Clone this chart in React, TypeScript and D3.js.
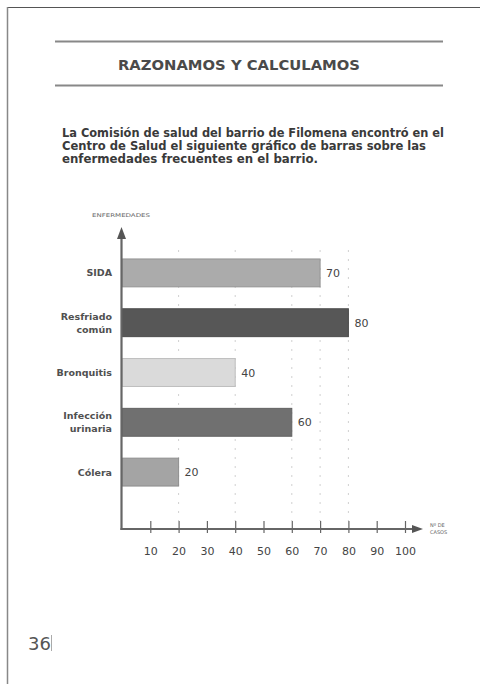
import { useEffect, useRef } from "react";
import * as d3 from "d3";

const CATEGORIES = ["SIDA", "Resfriado común", "Bronquitis", "Infección urinaria", "Cólera"];
const CATEGORY_LINES = [["SIDA"], ["Resfriado", "común"], ["Bronquitis"], ["Infección", "urinaria"], ["Cólera"]];
const CASES = [70, 80, 40, 60, 20];
const BAR_COLORS = ["#ababab", "#575757", "#dadada", "#707070", "#a4a4a4"];
const X_TICKS = [10, 20, 30, 40, 50, 60, 70, 80, 90, 100];
const GRID_VALUES = [20, 40, 60, 70, 80];
const INTRO_LINES = [
  "La Comisión de salud del barrio de Filomena encontró en el",
  "Centro de Salud el siguiente gráfico de barras sobre las",
  "enfermedades frecuentes en el barrio.",
];

export default function App() {
  const svgRef = useRef<SVGSVGElement>(null);

  useEffect(() => {
    if (!svgRef.current) return;
    const width = 480;
    const height = 684;
    const font = "'DejaVu Sans', 'Noto Sans', sans-serif";

    const svg = d3.select(svgRef.current);
    svg.selectAll("*").remove();
    svg.attr("width", width).attr("height", height).attr("viewBox", `0 0 ${width} ${height}`);

    svg.append("rect").attr("width", width).attr("height", height).attr("fill", "white");

    // page frame
    svg.append("line").attr("x1", 7).attr("y1", 7.5).attr("x2", width).attr("y2", 7.5)
      .attr("stroke", "#555").attr("stroke-width", 1.2);
    svg.append("line").attr("x1", 7.5).attr("y1", 7).attr("x2", 7.5).attr("y2", height)
      .attr("stroke", "#888").attr("stroke-width", 1.5);

    // header rules + title
    [41.5, 85.5].forEach((y) => {
      svg.append("line").attr("x1", 55).attr("x2", 443).attr("y1", y).attr("y2", y)
        .attr("stroke", "#888").attr("stroke-width", 2);
    });
    svg.append("text")
      .attr("x", 239).attr("y", 70)
      .attr("text-anchor", "middle")
      .attr("font-family", font).attr("font-size", 14).attr("font-weight", "bold")
      .attr("fill", "#4a4a4a")
      .attr("textLength", 242).attr("lengthAdjust", "spacingAndGlyphs")
      .text("RAZONAMOS Y CALCULAMOS");

    // intro paragraph
    const introWidths = [382, 364, 256];
    INTRO_LINES.forEach((line, i) => {
      svg.append("text")
        .attr("x", 62).attr("y", 137 + i * 13)
        .attr("font-family", font).attr("font-size", 11.5).attr("font-weight", "bold")
        .attr("fill", "#3a3a3a")
        .attr("textLength", introWidths[i]).attr("lengthAdjust", "spacingAndGlyphs")
        .text(line);
    });

    // chart
    const x = d3.scaleLinear().domain([0, 100]).range([122, 405]);
    const y = d3.scaleBand<string>().domain(CATEGORIES).range([248, 497])
      .paddingInner(0.44).paddingOuter(0.22);
    const axisY = 529;
    const axisX = 121.5;

    // dotted grid lines
    svg.append("g").selectAll("line").data(GRID_VALUES).join("line")
      .attr("x1", (d) => x(d)).attr("x2", (d) => x(d))
      .attr("y1", 250).attr("y2", 521)
      .attr("stroke", "#d0d0d0").attr("stroke-width", 1).attr("stroke-dasharray", "2,7");

    // bars
    svg.append("g").selectAll("rect").data(CATEGORIES).join("rect")
      .attr("x", x(0))
      .attr("y", (d) => y(d)!)
      .attr("width", (_, i) => x(CASES[i]) - x(0))
      .attr("height", y.bandwidth())
      .attr("fill", (_, i) => BAR_COLORS[i])
      .attr("stroke", (_, i) => d3.color(BAR_COLORS[i])!.darker(0.4).formatHex())
      .attr("stroke-width", 1);

    // value labels
    svg.append("g").selectAll("text").data(CATEGORIES).join("text")
      .attr("x", (_, i) => x(CASES[i]) + 6)
      .attr("y", (d) => y(d)! + y.bandwidth() / 2 + 4)
      .attr("font-family", font).attr("font-size", 11)
      .attr("fill", "#444")
      .text((_, i) => CASES[i]);

    // category labels
    CATEGORIES.forEach((cat, i) => {
      const lines = CATEGORY_LINES[i];
      const cy = y(cat)! + y.bandwidth() / 2;
      const t = svg.append("text")
        .attr("text-anchor", "end")
        .attr("font-family", font).attr("font-size", 9.5).attr("font-weight", "bold")
        .attr("fill", "#505050");
      lines.forEach((ln, j) => {
        t.append("tspan")
          .attr("x", 112)
          .attr("y", cy + 3.5 + (j - (lines.length - 1) / 2) * 13)
          .text(ln);
      });
    });

    // y axis with arrow
    svg.append("line").attr("x1", axisX).attr("x2", axisX).attr("y1", 236).attr("y2", axisY + 1)
      .attr("stroke", "#666").attr("stroke-width", 2.2);
    svg.append("path")
      .attr("d", `M${axisX},227 L${axisX - 4.5},239 L${axisX + 4.5},239 Z`)
      .attr("fill", "#555");
    svg.append("text")
      .attr("x", 92).attr("y", 217)
      .attr("font-family", font).attr("font-size", 5)
      .attr("fill", "#666")
      .attr("textLength", 58).attr("lengthAdjust", "spacingAndGlyphs")
      .text("ENFERMEDADES");

    // x axis with arrow
    svg.append("line").attr("x1", axisX - 1).attr("x2", 414).attr("y1", axisY).attr("y2", axisY)
      .attr("stroke", "#666").attr("stroke-width", 2.2);
    svg.append("path")
      .attr("d", `M423,${axisY} L412,${axisY - 4} L412,${axisY + 4} Z`)
      .attr("fill", "#555");
    const xAxis = d3.axisBottom(x).tickValues(X_TICKS).tickSize(0).tickPadding(0);
    const gx = svg.append("g").attr("transform", `translate(0,${axisY})`).call(xAxis);
    gx.select(".domain").remove();
    gx.selectAll(".tick").append("line")
      .attr("y1", -8).attr("y2", 4).attr("stroke", "#666").attr("stroke-width", 1.2);
    gx.selectAll(".tick text")
      .attr("y", 18)
      .attr("font-family", font).attr("font-size", 11)
      .attr("fill", "#444");

    const caseLabel = svg.append("text")
      .attr("font-family", font).attr("font-size", 5).attr("fill", "#666");
    caseLabel.append("tspan").attr("x", 430).attr("y", 527).text("Nº DE");
    caseLabel.append("tspan").attr("x", 430).attr("y", 533.5).text("CASOS");

    // page number
    svg.append("text")
      .attr("x", 28).attr("y", 650)
      .attr("font-family", font).attr("font-size", 18)
      .attr("fill", "#555")
      .text("36");
    svg.append("line").attr("x1", 51.5).attr("x2", 51.5).attr("y1", 635).attr("y2", 651)
      .attr("stroke", "#aaa").attr("stroke-width", 1);
  }, []);

  return (
    <div style={{ position: "fixed", left: 0, top: 0 }}>
      <svg ref={svgRef} style={{ display: "block" }} />
    </div>
  );
}
